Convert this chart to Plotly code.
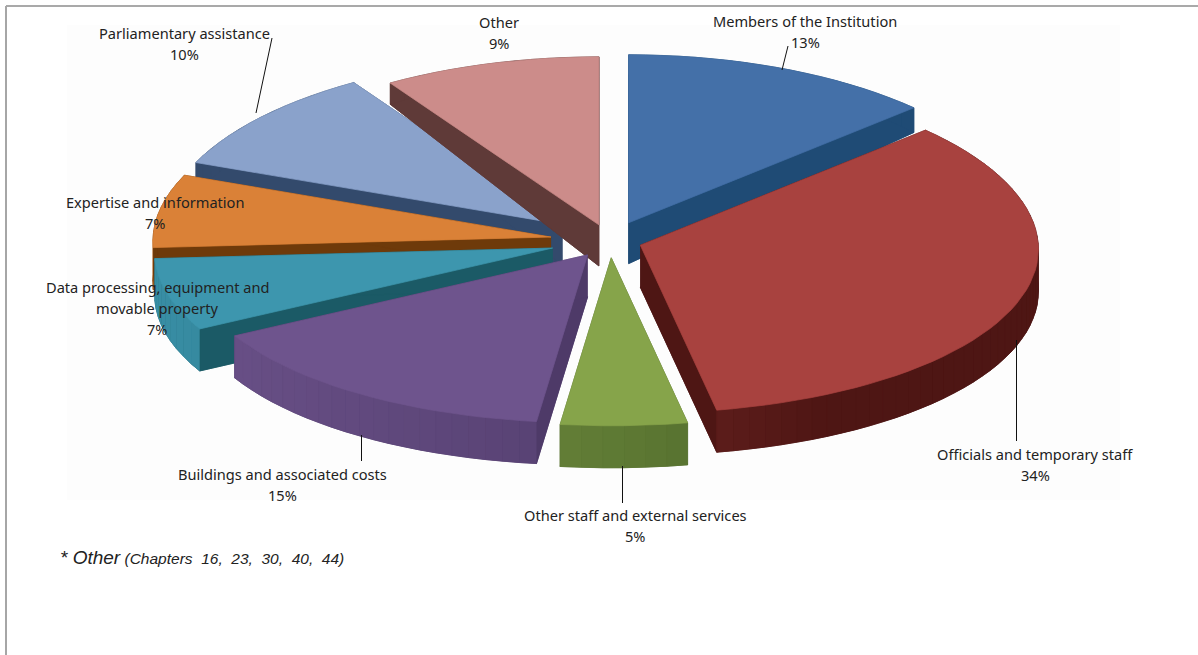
import numpy as np
import plotly.graph_objects as go

# ---- data
categories = ["Members of the Institution", "Officials and temporary staff",
              "Other staff and external services", "Buildings and associated costs",
              "Data processing, equipment and movable property", "Expertise and information",
              "Parliamentary assistance", "Other"]
shares = [13, 34, 5, 15, 7, 7, 10, 9]
pull = [0.118, 0.08, 0.10, 0.10, 0.15, 0.15, 0.155, 0.10]
top_colors = ["#4470A8", "#A8423F", "#86A44A", "#6E548D", "#3D96AE", "#DA8137", "#8AA2CB", "#CC8C8A"]
wall_colors = ["#1F4B75", "#4E1614", "#506A2C", "#4E3A68", "#1B5A66", "#6E3A0A", "#334A6C", "#5F3A38"]
draw_order = [0, 6, 5, 4, 7, 1, 3, 2]

# label lines, one list per category, with anchor centres in page pixels
label_lines = [["Members of the Institution"], ["Officials and temporary staff"],
               ["Other staff and external services"], ["Buildings and associated costs"],
               ["Data processing, equipment and", "movable property"], ["Expertise and information"],
               ["Parliamentary assistance"], ["Other"]]
label_cx = [805, 1035, 635, 282, 157, 155, 184, 499]
label_top = [21, 454, 515, 474, 287, 202, 33, 22]
leaders = [((782, 70), (788, 46)), ((1016.5, 340), (1016.5, 441)), ((622.5, 466), (622.5, 503)),
           ((361.5, 435), (361.5, 461)), ((256, 113), (272, 38))]

CX, CY, RX, RY = 610, 241, 398, 168
PERSPECTIVE = 0.025
W, H = 1198, 655


def hex2rgb(h):
    return np.array([int(h[i:i + 2], 16) for i in (1, 3, 5)], float)


def mix(a, b, t):
    c = hex2rgb(a) * (1 - t) + hex2rgb(b) * t
    return "rgb(%d,%d,%d)" % tuple(c)


def depth(y):
    return np.clip(25 + (np.asarray(y, float) - 110) * 0.14, 20, 42)


def poly(x, y, color):
    return go.Scatter(x=list(x), y=list(y), mode="lines", fill="toself", fillcolor=color,
                      line=dict(color=color, width=0.7), hoverinfo="skip", showlegend=False)


fig = go.Figure()
cum = np.concatenate([[0], np.cumsum(shares)]) / sum(shares) * 2 * np.pi

for i in draw_order:
    a0, a1 = cum[i], cum[i + 1]
    mid = (a0 + a1) / 2
    ax = CX + pull[i] * RX * np.sin(mid)
    ay = CY - pull[i] * RY * np.cos(mid)
    th = np.linspace(a0, a1, max(int((a1 - a0) / 0.04), 4))
    ex = ax + RX * (1 - PERSPECTIVE * np.cos(th)) * np.sin(th)
    ey = ay - RY * np.cos(th)
    px = np.concatenate([[ax], ex, [ax]])
    py = np.concatenate([[ay], ey, [ay]])
    top, wall = top_colors[i], wall_colors[i]
    # base and radial walls
    fig.add_trace(poly(px, py + depth(py), wall))
    for k in (0, -1):
        qx = [ax, ex[k], ex[k], ax]
        qy = [ay, ey[k], ey[k] + depth(ey[k]), ay + depth(ay)]
        fig.add_trace(poly(qx, qy, wall))
    # outer wall, shaded by the angle it faces
    for k in range(len(th) - 1):
        am = (th[k] + th[k + 1]) / 2
        t = 1.0 if np.cos(am) > 0 else min(1.0, 0.12 + 1.2 * (0.5 + 0.5 * np.sin(am)))
        qx = [ex[k], ex[k + 1], ex[k + 1], ex[k]]
        qy = [ey[k], ey[k + 1], ey[k + 1] + depth(ey[k + 1]), ey[k] + depth(ey[k])]
        fig.add_trace(poly(qx, qy, mix(top, wall, t)))
    fig.add_trace(poly(px, py, top))

shapes = [
    dict(type="rect", x0=67, x1=1120, y0=25, y1=500, fillcolor="#FDFDFD", line_width=0, layer="below"),
    dict(type="line", x0=6, x1=W, y0=6, y1=6, line=dict(color="#8C8C8C", width=1.5)),
    dict(type="line", x0=6, x1=6, y0=6, y1=H, line=dict(color="#A6A6A6", width=2)),
]
for (p0, p1) in leaders:
    shapes.append(dict(type="line", x0=p0[0], y0=p0[1], x1=p1[0], y1=p1[1],
                       line=dict(color="#111111", width=1)))

LABEL_FONT = dict(family="Noto Sans", size=14.6, color="#222222")
LINE = 21
anns = []
for i, lines in enumerate(label_lines):
    rows = lines + ["%d%%" % shares[i]]
    for j, r in enumerate(rows):
        anns.append(dict(x=label_cx[i], y=label_top[i] + j * LINE, text=r, showarrow=False,
                         xanchor="center", yanchor="middle", font=LABEL_FONT))
anns.append(dict(x=58, y=557, xanchor="left", yanchor="middle", showarrow=False,
                 text="<i><span style='font-size:19px'>* Other</span> (Chapters&nbsp;&nbsp;16,&nbsp;&nbsp;23,&nbsp;&nbsp;30,&nbsp;&nbsp;40,&nbsp;&nbsp;44)</i>",
                 font=dict(family="Liberation Sans", size=15.5, color="#222222")))

fig.update_layout(
    width=W, height=H, margin=dict(l=0, r=0, t=0, b=0), paper_bgcolor="white", plot_bgcolor="white",
    showlegend=False, shapes=shapes, annotations=anns,
    xaxis=dict(range=[0, W], visible=False, fixedrange=True),
    yaxis=dict(range=[H, 0], visible=False, fixedrange=True),
)
fig.write_html("out.html", config=dict(displayModeBar=False),
               post_script="document.body.style.margin='0';document.body.style.overflow='hidden';")
